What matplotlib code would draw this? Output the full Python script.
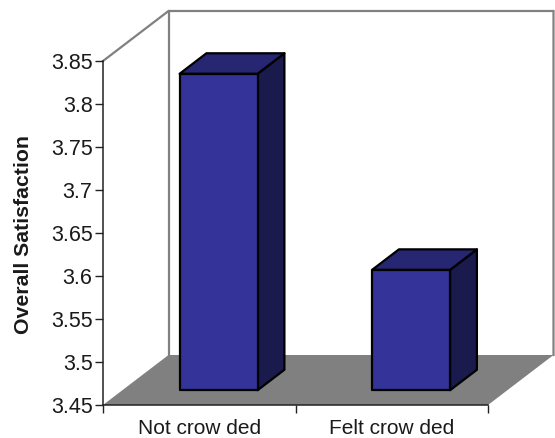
import matplotlib
matplotlib.use("Agg")
import matplotlib.pyplot as plt
from matplotlib.patches import Polygon

# Chart data
categories = ["Not crow ded", "Felt crow ded"]
satisfaction = [3.818, 3.59]
y_ticks = [3.45, 3.5, 3.55, 3.6, 3.65, 3.7, 3.75, 3.8, 3.85]
y_tick_labels = ["3.45", "3.5", "3.55", "3.6", "3.65", "3.7", "3.75", "3.8", "3.85"]

W, H = 555, 438
TEXT = "#1a1a1a"
plt.rcParams["font.family"] = ["Liberation Sans", "DejaVu Sans"]
fig = plt.figure(figsize=(W / 100, H / 100), dpi=100)

# Front plane of the box: x 103-488 px, y 61-405 px from the top
ax = fig.add_axes([103 / W, 1 - 405 / H, 385 / W, 344 / H])
YMIN, YMAX = y_ticks[0], y_ticks[-1]
ax.set_xlim(0, len(categories))
ax.set_ylim(YMIN, YMAX)
ax.patch.set_visible(False)

# Oblique projection: one full unit of depth shifts x and y by these amounts
DEPTH_X = 65.5 / 192.5
DEPTH_Y = 50 / 43 * 0.05
BAR_WIDTH = 0.405
BAR_D0, BAR_D1 = 0.295, 0.705


def proj(x, v, d=0.0):
    return (x + d * DEPTH_X, v + d * DEPTH_Y)


def face(points, **kw):
    ax.add_patch(Polygon([proj(*p) for p in points], closed=True,
                         clip_on=False, **kw))


GREY = "#808080"
n = len(categories)

# Floor
face([(0, YMIN, 0), (n, YMIN, 0), (n, YMIN, 1), (0, YMIN, 1)],
     facecolor=GREY, edgecolor="none", zorder=1)

# Back wall outline and the left diagonal
wall = [proj(0, YMAX, 0), proj(0, YMAX, 1), proj(n, YMAX, 1), proj(n, YMIN, 1)]
ax.plot(*zip(*wall), color=GREY, lw=1.6, clip_on=False, zorder=1,
        solid_joinstyle="miter")
ax.plot(*zip(proj(0, YMIN, 1), proj(0, YMAX, 1)), color=GREY, lw=1.6,
        clip_on=False, zorder=1)

# Bars
edge = dict(edgecolor="black", linewidth=1.6, joinstyle="round", zorder=3)
for i, val in enumerate(satisfaction):
    x0 = i + 0.5 - BAR_WIDTH / 2
    x1 = i + 0.5 + BAR_WIDTH / 2
    face([(x1, YMIN, BAR_D0), (x1, YMIN, BAR_D1), (x1, val, BAR_D1), (x1, val, BAR_D0)],
         facecolor="#1A1A4D", **edge)
    face([(x0, val, BAR_D0), (x1, val, BAR_D0), (x1, val, BAR_D1), (x0, val, BAR_D1)],
         facecolor="#262673", **edge)
    face([(x0, YMIN, BAR_D0), (x1, YMIN, BAR_D0), (x1, val, BAR_D0), (x0, val, BAR_D0)],
         facecolor="#333399", **edge)

# Axes
for side in ("top", "right"):
    ax.spines[side].set_visible(False)
for side in ("left", "bottom"):
    ax.spines[side].set_linewidth(1.1)
    ax.spines[side].set_color("#222222")
    ax.spines[side].set_zorder(4)

ax.set_yticks(y_ticks)
ax.set_yticklabels(y_tick_labels, fontsize=15.5, color=TEXT)
ax.tick_params(axis="y", length=5.5, width=1.0, pad=2, color="#222222")
ax.set_xticks(range(n + 1))
ax.set_xticklabels([])
ax.tick_params(axis="x", which="major", length=5.5, width=1.0, color="#222222")
ax.set_xticks([i + 0.5 for i in range(n)], minor=True)
ax.set_xticklabels(categories, minor=True, fontsize=15, color=TEXT)
ax.tick_params(axis="x", which="minor", length=0, pad=10)

fig.text(24 / W, 1 - 235 / H, "Overall Satisfaction", rotation=90, fontsize=15.3,
         fontweight="bold", ha="center", va="center", color=TEXT)

fig.savefig("out.png", dpi=100)
